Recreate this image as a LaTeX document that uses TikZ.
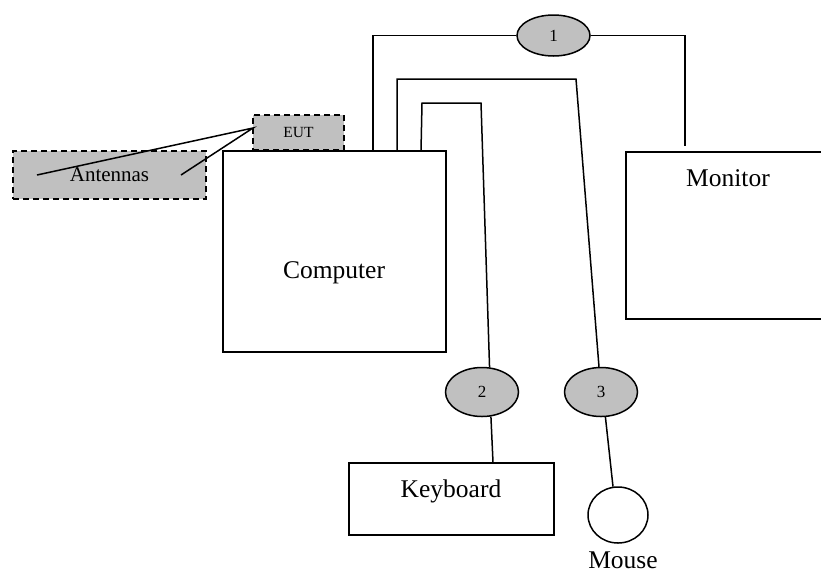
\documentclass[tikz,border=0pt]{standalone}
\usepackage{fontspec}
\setmainfont{Liberation Serif}
\usetikzlibrary{shapes.geometric}
\definecolor{silver}{RGB}{192,192,192}
\begin{document}
\begin{tikzpicture}[x=1pt,y=-1pt,line width=1.5pt,
  box/.style={draw,rectangle,inner sep=0pt},
  dbox/.style={draw,rectangle,inner sep=0pt,fill=silver,dash pattern=on 6pt off 4pt},
  cablenode/.style={draw,ellipse,fill=silver,inner sep=0pt,minimum width=73pt,minimum height=49pt,font=\fontsize{17}{19}\selectfont},
  bigtext/.style={inner sep=0pt,font=\fontsize{25.5}{30}\selectfont},
  wire/.style={draw,line width=1.5pt}]
\useasboundingbox (0,0) rectangle (821,574);
% boxes
\node[dbox,minimum width=193pt,minimum height=48pt,font=\fontsize{21}{24}\selectfont] (ant) at (109.5,175) {Antennas};
\node[dbox,minimum width=91pt,minimum height=35pt,font=\fontsize{15.5}{18}\selectfont] (eut) at (298.5,132.5) {EUT};
\node[box,minimum width=223pt,minimum height=201pt] (comp) at (334.5,251.5) {};
\node[bigtext] (comptext) at (334,273) {Computer};
\node[box,minimum width=204pt,minimum height=167pt] (mon) at (728,235.5) {};
\node[bigtext] (montext) at (728,178) {Monitor};
\node[box,minimum width=205pt,minimum height=72pt] (kb) at (451.5,499) {};
\node[bigtext] (kbtext) at (451,491) {Keyboard};
\node[draw,ellipse,inner sep=0pt,minimum width=60pt,minimum height=56pt] (mouse) at (618,515) {};
\node[bigtext] (mousetext) at (623,560) {Mouse};
% cable ferrites
\node[cablenode,minimum height=41pt] (e1) at (553.5,35.5) {1};
\node[cablenode] (e2) at (482,392) {2};
\node[cablenode] (e3) at (601,392) {3};
% antenna lines
\coordinate (eutp) at (253,128);
\coordinate (a1) at (37,175);
\coordinate (a2) at (181,175);
\draw[wire] (a1) -- (eutp) -- (a2);
% cable 1
\coordinate (p1) at (373,151);
\coordinate (m1) at (685,146);
\draw[wire] (p1) |- (e1);
\draw[wire] (e1) -| (m1);
% cable 3
\coordinate (p3) at (397,151);
\coordinate (q3) at (576,79);
\draw[wire] (p3) |- (q3) -- (e3);
\draw[wire] (e3.-80) -- (mouse.100);
% cable 2
\coordinate (p2) at (421,151);
\coordinate (r2) at (422,103);
\coordinate (s2) at (481,103);
\draw[wire] (p2) -- (r2) -- (s2) -- (e2.73);
\draw[wire] (e2.-70) -- (kb.north -| 493,0);
\end{tikzpicture}
\end{document}
